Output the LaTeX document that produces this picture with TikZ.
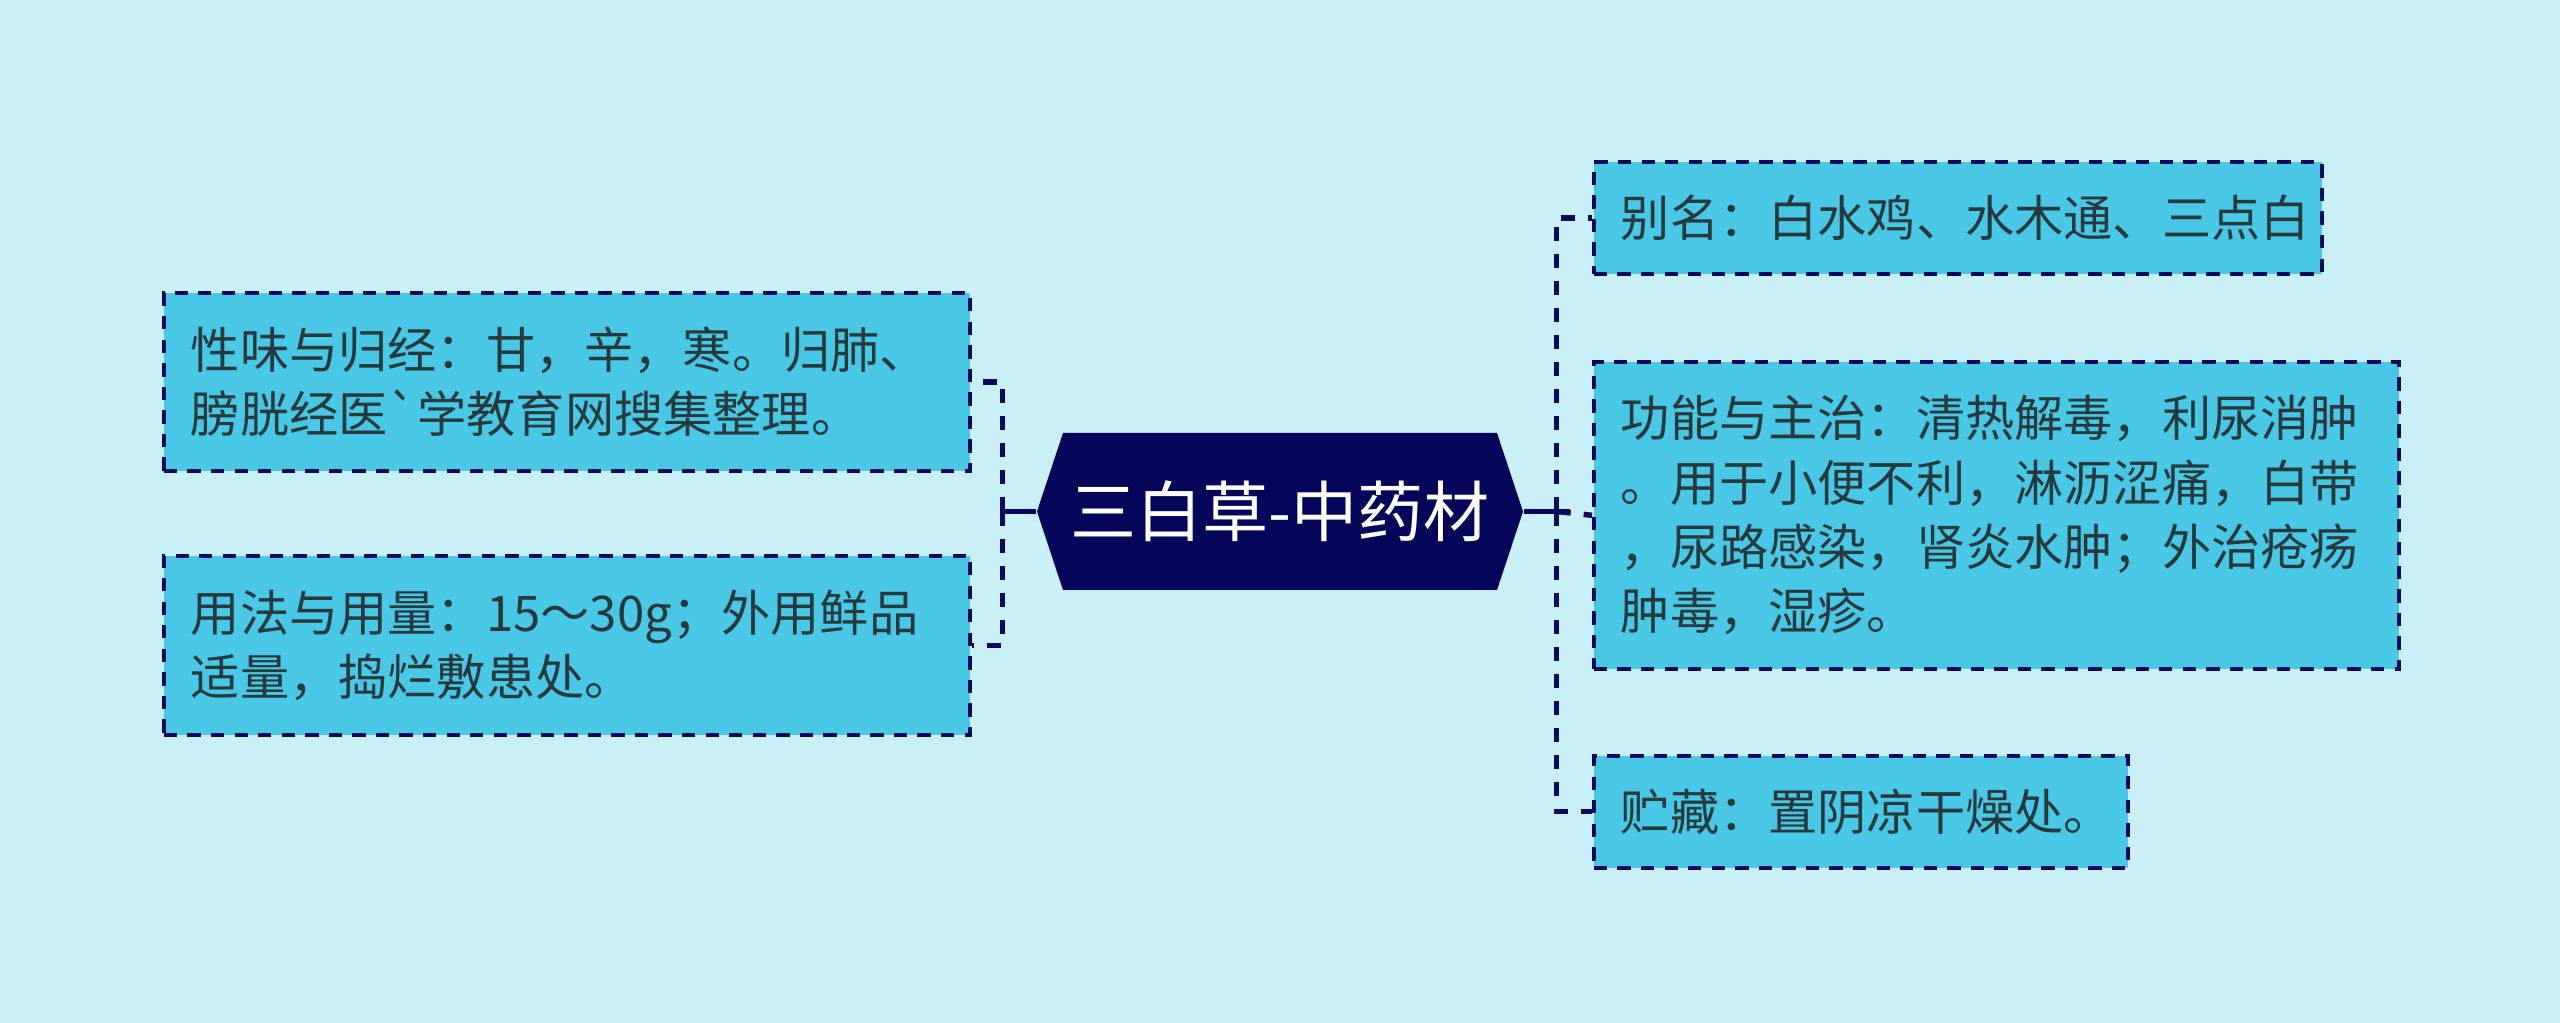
\documentclass[tikz,border=0pt]{standalone}
\usepackage{fontspec}
\usepackage{xcolor}
\newfontfamily\cjk{Noto Sans CJK SC}
\usetikzlibrary{positioning, calc}
\definecolor{paper}{HTML}{C9F0F7}
\definecolor{leaffill}{HTML}{48C8E4}
\definecolor{navy}{HTML}{0A0A5C}
\definecolor{hexfill}{HTML}{050559}
\definecolor{ink}{HTML}{263A3E}
\tikzset{
  leaf/.style={draw=navy, line width=1.1pt, dash pattern=on 3.8pt off 2.9pt, fill=leaffill, text=ink,
    align=left, inner xsep=0.27cm, inner ysep=0pt, font=\cjk\fontsize{14pt}{18.3pt}\selectfont},
  title/.style={text=white, font=\cjk\fontsize{18.8pt}{22pt}\selectfont, minimum width=4.86cm,
    minimum height=1.57cm, inner sep=0pt},
  stem/.style={draw=navy, line width=1.7pt},
  link/.style={draw=navy, line width=1.55pt, dash pattern=on 4pt off 3.7pt},
}

\begin{document}
\begin{tikzpicture}
  \useasboundingbox (0,0) rectangle (25.60,-10.23);
  \fill[paper] (0,0) rectangle (25.60,-10.23);

  \coordinate (c) at (12.80,-5.115);
  \fill[hexfill, shift={(c)}] (-2.43,0) -- (-2.17,0.785) -- (2.17,0.785) -- (2.43,0)
    -- (2.17,-0.785) -- (-2.17,-0.785) -- cycle;
  \node[title] (root) at (c) {三白草-中药材};

  \node[leaf, text width=7.52cm, minimum height=1.78cm, anchor=north west] (taste) at (1.62,-2.91)
    {性味与归经：甘，辛，寒。归肺、\\膀胱经医`学教育网搜集整理。};
  \node[leaf, text width=7.52cm, minimum height=1.79cm, below=0.81cm of taste.south west, anchor=north west] (usage)
    {用法与用量：15～30g；外用鲜品\\适量，捣烂敷患处。};

  \node[leaf, text width=6.74cm, minimum height=1.12cm, anchor=north west] (alias) at (15.92,-1.60)
    {别名：白水鸡、水木通、三点白};
  \node[leaf, text width=7.51cm, minimum height=3.07cm, below=0.84cm of alias.south west, anchor=north west] (effect)
    {功能与主治：清热解毒，利尿消肿\\。用于小便不利，淋沥涩痛，白带\\，尿路感染，肾炎水肿；外治疮疡\\肿毒，湿疹。};
  \node[leaf, text width=4.80cm, minimum height=1.12cm, below=0.83cm of effect.south west, anchor=north west] (store)
    {贮藏：置阴凉干燥处。};

  \coordinate[left=0.34cm of root.west] (lhub);
  \coordinate[right=0.33cm of root.east] (rhub);
  \coordinate[right=0.13cm of rhub] (rstub);
  \draw[stem] (root.west) -- (lhub);
  \draw[stem] (root.east) -- (rstub);
  \draw[link] (lhub) |- (taste.east);
  \draw[link] (lhub) |- (usage.east);
  \draw[link] (rhub) |- (alias.west);
  \draw[link] (rhub) -- (effect.west);
  \draw[link] (rhub) |- (store.west);
\end{tikzpicture}
\end{document}
